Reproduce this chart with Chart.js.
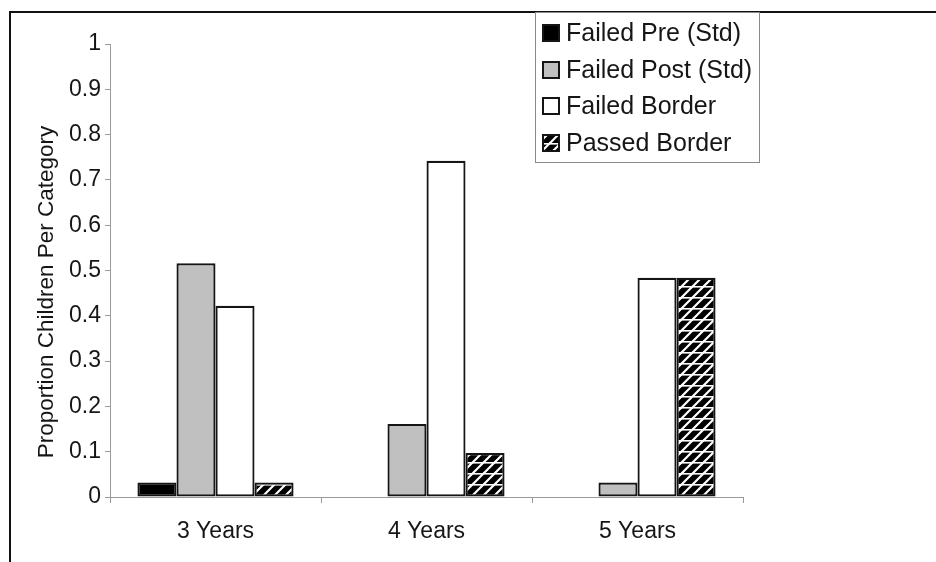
<!DOCTYPE html>
<html>
<head>
<meta charset="utf-8">
<script src="https://cdn.jsdelivr.net/npm/chart.js@4/dist/chart.umd.min.js"></script>
<style>
  html, body { margin: 0; padding: 0; background: #fff; }
  #wrap { width: 936px; height: 562px; position: relative; }
</style>
</head>
<body>
<div id="wrap"><canvas id="chart" width="936" height="562"></canvas></div>
<script>
// Age groups and the proportion of children falling in each outcome
const ageGroups = ['3 Years', '4 Years', '5 Years'];
const failedPreStd  = [0.032, 0, 0];
const failedPostStd = [0.516, 0.161, 0.032];
const failedBorder  = [0.422, 0.742, 0.484];
const passedBorder  = [0.032, 0.097, 0.484];
const seriesNames = ['Failed Pre (Std)', 'Failed Post (Std)', 'Failed Border', 'Passed Border'];
const yTicks = [0, 0.1, 0.2, 0.3, 0.4, 0.5, 0.6, 0.7, 0.8, 0.9, 1];
const yTitle = 'Proportion Children Per Category';

const FONT = '"Liberation Sans", Arial, sans-serif';
const EDGE = '#151515';
const AXIS = '#9a9a9a';
const INK = '#161616';

// Black tile with white upward diagonals and horizontal rules
function makeHatch() {
  const s = 11;
  const c = document.createElement('canvas');
  c.width = s; c.height = s;
  const g = c.getContext('2d');
  g.fillStyle = '#000';
  g.fillRect(0, 0, s, s);
  g.strokeStyle = '#fff';
  g.lineWidth = 2.2;
  g.beginPath();
  g.moveTo(-2, s + 2); g.lineTo(s + 2, -2);
  g.moveTo(-2, 2); g.lineTo(2, -2);
  g.moveTo(s - 2, s + 2); g.lineTo(s + 2, s - 2);
  g.stroke();
  g.lineWidth = 1.6;
  g.beginPath();
  g.moveTo(0, 0.8); g.lineTo(s, 0.8);
  g.stroke();
  return g.createPattern(c, 'repeat');
}

const ctx = document.getElementById('chart').getContext('2d');
const hatch = makeHatch();

const fills = ['#000000', '#c0c0c0', '#ffffff', hatch];
const values = [failedPreStd, failedPostStd, failedBorder, passedBorder];

const datasets = seriesNames.map((name, i) => ({
  label: name,
  data: values[i],
  backgroundColor: fills[i],
  borderColor: EDGE,
  borderWidth: 2.2,
  borderSkipped: false,
  categoryPercentage: 0.74,
  barPercentage: 1.0
}));

// White page plus the outer frame lines
const pagePlugin = {
  id: 'page',
  beforeDraw(chart) {
    const c = chart.ctx;
    c.save();
    c.fillStyle = '#fff';
    c.fillRect(0, 0, chart.width, chart.height);
    c.restore();
  },
  afterDraw(chart) {
    const c = chart.ctx;
    c.save();
    c.strokeStyle = '#111';
    c.lineWidth = 2;
    c.beginPath();
    c.moveTo(9, 12); c.lineTo(chart.width, 12);
    c.moveTo(10, 12); c.lineTo(10, chart.height);
    c.stroke();
    c.restore();
  }
};

// Rotated value-axis title, set a little below the axis midpoint
const axisTitle = {
  id: 'axisTitle',
  afterDraw(chart) {
    const c = chart.ctx;
    c.save();
    c.translate(47, 292);
    c.rotate(-Math.PI / 2);
    c.font = '22.5px ' + FONT;
    c.fillStyle = INK;
    c.textAlign = 'center';
    c.textBaseline = 'middle';
    c.fillText(yTitle, 0, 0);
    c.restore();
  }
};

// Boxed legend in the upper right
const boxLegend = {
  id: 'boxLegend',
  afterDraw(chart) {
    const c = chart.ctx;
    const x0 = 535, y0 = 12, w = 224, h = 150;
    c.save();
    c.fillStyle = '#fff';
    c.fillRect(x0, y0, w, h);
    c.strokeStyle = '#8a8a8a';
    c.lineWidth = 1;
    c.strokeRect(x0 + 0.5, y0 + 0.5, w, h);
    c.font = '25px ' + FONT;
    c.textBaseline = 'middle';
    const rows = [33, 70, 106, 143];
    chart.data.datasets.forEach((ds, i) => {
      const cy = rows[i];
      c.fillStyle = ds.backgroundColor;
      c.fillRect(543, cy - 8, 16, 16);
      c.strokeStyle = EDGE;
      c.lineWidth = 2;
      c.strokeRect(543, cy - 8, 16, 16);
      c.fillStyle = INK;
      c.fillText(ds.label, 566, cy + 1);
    });
    c.restore();
  }
};

new Chart(ctx, {
  type: 'bar',
  data: { labels: ageGroups, datasets },
  options: {
    responsive: false,
    animation: false,
    layout: { padding: { left: 12, top: 44, right: 193, bottom: 0 } },
    plugins: {
      legend: { display: false },
      tooltip: { enabled: false }
    },
    scales: {
      x: {
        grid: { offset: true, drawOnChartArea: false, color: AXIS, tickLength: 6, lineWidth: 1 },
        border: { color: AXIS, width: 1 },
        ticks: { color: INK, font: { family: FONT, size: 23 }, padding: 15, maxRotation: 0 },
        afterFit(scale) { scale.height = 65; }
      },
      y: {
        min: 0,
        max: 1,
        afterBuildTicks(scale) { scale.ticks = yTicks.map(v => ({ value: v })); },
        grid: { drawOnChartArea: false, color: AXIS, tickLength: 5, lineWidth: 1 },
        border: { color: AXIS, width: 1 },
        ticks: {
          color: INK,
          font: { family: FONT, size: 23 },
          padding: 4,
          callback: v => String(Math.round(v * 10) / 10)
        },
        afterFit(scale) { scale.width = 98; }
      }
    }
  },
  plugins: [pagePlugin, axisTitle, boxLegend]
});
</script>
</body>
</html>
